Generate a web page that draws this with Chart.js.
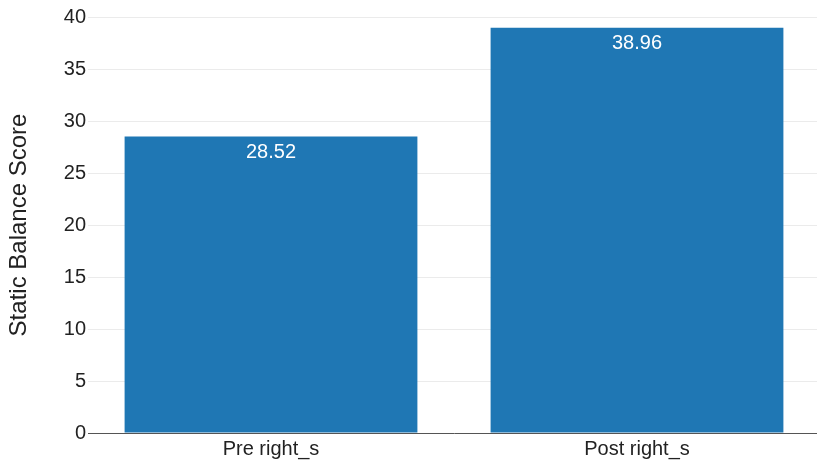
<!DOCTYPE html>
<html>
<head>
<meta charset="utf-8">
<script src="https://cdn.jsdelivr.net/npm/chart.js@4"></script>
<style>
html,body{margin:0;padding:0;background:#fff;overflow:hidden;}
#wrap{width:821px;height:466px;position:relative;}
</style>
</head>
<body>
<div id="wrap"><canvas id="c"></canvas></div>
<script>
const categories = ["Pre right_s", "Post right_s"];
const values = [28.52, 38.96];
const yTicks = [0, 5, 10, 15, 20, 25, 30, 35, 40];
const yTitle = "Static Balance Score";

const FONT = '"Liberation Sans", Arial, sans-serif';

const labelPlugin = {
  id: 'barLabels',
  afterDatasetsDraw(chart) {
    const ctx = chart.ctx;
    const meta = chart.getDatasetMeta(0);
    ctx.save();
    ctx.fillStyle = '#ffffff';
    ctx.font = '20px ' + FONT;
    ctx.textAlign = 'center';
    ctx.textBaseline = 'middle';
    meta.data.forEach((bar, i) => {
      ctx.fillText(values[i].toFixed(2), bar.x, bar.y + 16);
    });
    ctx.restore();
  }
};

new Chart(document.getElementById('c'), {
  type: 'bar',
  data: {
    labels: categories,
    datasets: [{
      data: values,
      backgroundColor: '#1f77b4',
      borderWidth: 0,
      categoryPercentage: 1.0,
      barPercentage: 0.8
    }]
  },
  options: {
    responsive: true,
    maintainAspectRatio: false,
    animation: false,
    layout: { padding: { top: 17, right: 1, left: 0, bottom: 0 } },
    plugins: { legend: { display: false }, tooltip: { enabled: false } },
    scales: {
      x: {
        grid: { display: false, drawTicks: false },
        border: { display: true, color: '#555555', width: 1 },
        ticks: { color: '#222222', font: { family: FONT, size: 20 }, padding: 4 },
        afterFit(s) { s.height = 33; }
      },
      y: {
        min: 0, max: 40,
        afterBuildTicks(s) { s.ticks = yTicks.map(v => ({ value: v })); },
        grid: { color: '#ebebeb', lineWidth: 1, drawTicks: false },
        border: { display: false },
        ticks: { color: '#222222', font: { family: FONT, size: 20 }, padding: 2 },
        title: { display: true, text: yTitle, color: '#222222', font: { family: FONT, size: 24 }, padding: { top: 5, bottom: 0 } },
        afterFit(s) { s.width = 88; }
      }
    }
  },
  plugins: [labelPlugin]
});
</script>
</body>
</html>
